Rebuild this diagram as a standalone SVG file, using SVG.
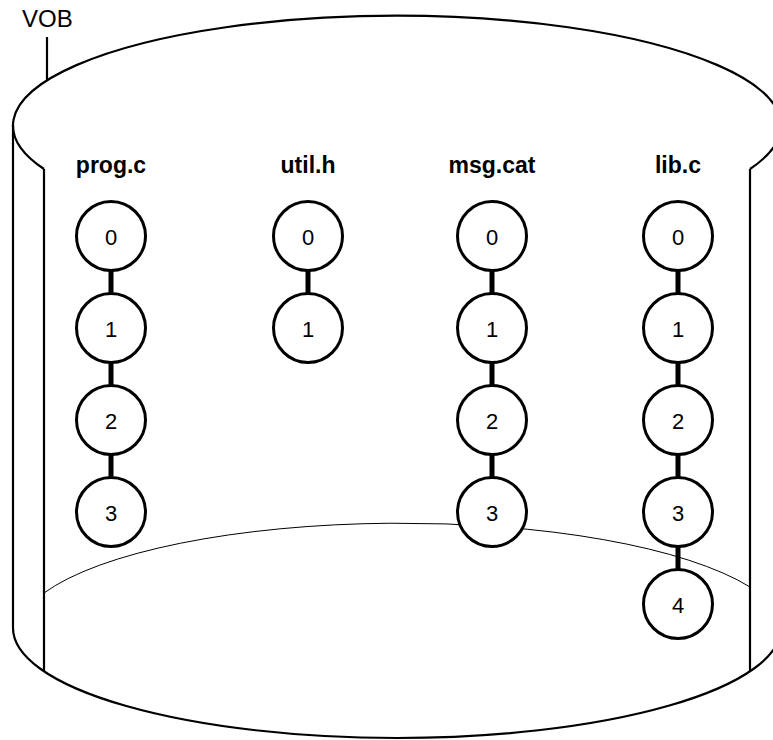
<svg xmlns="http://www.w3.org/2000/svg" width="773" height="740" viewBox="0 0 773 740">
<style>
.wall{fill:none;stroke:#000;stroke-width:2.2}
.thin{fill:none;stroke:#000;stroke-width:1}
.node circle{fill:#fff;stroke:#000;stroke-width:3}
.node text{font-family:"Liberation Sans",Arial,sans-serif;font-size:22px;text-anchor:middle;fill:#000}
.lbl{font-family:"Liberation Sans",Arial,sans-serif;font-size:23px;font-weight:bold;text-anchor:middle;fill:#000}
.conn line{stroke:#000;stroke-width:5}
</style>
<g id="vob">
<path class="wall" d="M44 169 A384 110 0 1 1 750 169"/>
<path class="wall" d="M13 628 A384 110 0 0 0 781 628"/>
<line class="wall" x1="13" y1="125" x2="13" y2="628"/>
<line class="wall" x1="44" y1="169" x2="44" y2="672"/>
<line class="wall" x1="750" y1="169" x2="750" y2="672"/>
<line class="wall" x1="781" y1="125" x2="781" y2="628"/>
<path class="thin" d="M44 593 A384 110 0 0 1 750 587"/>
<line class="wall" x1="47" y1="37" x2="47" y2="80"/>
<text x="22" y="27" font-family="Liberation Sans, Arial, sans-serif" font-size="24">VOB</text>
</g>
<g id="labels">
<text class="lbl" x="111" y="173">prog.c</text>
<text class="lbl" x="308" y="173">util.h</text>
<text class="lbl" x="492" y="173">msg.cat</text>
<text class="lbl" x="678" y="173">lib.c</text>
</g>
<g id="connectors" class="conn">
<line x1="111" y1="270" x2="111" y2="294"/>
<line x1="111" y1="362" x2="111" y2="386"/>
<line x1="111" y1="454" x2="111" y2="478"/>
<line x1="308" y1="270" x2="308" y2="294"/>
<line x1="492" y1="270" x2="492" y2="294"/>
<line x1="492" y1="362" x2="492" y2="386"/>
<line x1="492" y1="454" x2="492" y2="478"/>
<line x1="678" y1="270" x2="678" y2="294"/>
<line x1="678" y1="362" x2="678" y2="386"/>
<line x1="678" y1="454" x2="678" y2="478"/>
<line x1="678" y1="546" x2="678" y2="570"/>
</g>
<g id="prog_c_0" class="node"><circle cx="111" cy="236" r="34.5"/><text x="111" y="245">0</text></g>
<g id="prog_c_1" class="node"><circle cx="111" cy="328" r="34.5"/><text x="111" y="337">1</text></g>
<g id="prog_c_2" class="node"><circle cx="111" cy="420" r="34.5"/><text x="111" y="429">2</text></g>
<g id="prog_c_3" class="node"><circle cx="111" cy="512" r="34.5"/><text x="111" y="521">3</text></g>
<g id="util_h_0" class="node"><circle cx="308" cy="236" r="34.5"/><text x="308" y="245">0</text></g>
<g id="util_h_1" class="node"><circle cx="308" cy="328" r="34.5"/><text x="308" y="337">1</text></g>
<g id="msg_cat_0" class="node"><circle cx="492" cy="236" r="34.5"/><text x="492" y="245">0</text></g>
<g id="msg_cat_1" class="node"><circle cx="492" cy="328" r="34.5"/><text x="492" y="337">1</text></g>
<g id="msg_cat_2" class="node"><circle cx="492" cy="420" r="34.5"/><text x="492" y="429">2</text></g>
<g id="msg_cat_3" class="node"><circle cx="492" cy="512" r="34.5"/><text x="492" y="521">3</text></g>
<g id="lib_c_0" class="node"><circle cx="678" cy="236" r="34.5"/><text x="678" y="245">0</text></g>
<g id="lib_c_1" class="node"><circle cx="678" cy="328" r="34.5"/><text x="678" y="337">1</text></g>
<g id="lib_c_2" class="node"><circle cx="678" cy="420" r="34.5"/><text x="678" y="429">2</text></g>
<g id="lib_c_3" class="node"><circle cx="678" cy="512" r="34.5"/><text x="678" y="521">3</text></g>
<g id="lib_c_4" class="node"><circle cx="678" cy="604" r="34.5"/><text x="678" y="613">4</text></g>
</svg>
